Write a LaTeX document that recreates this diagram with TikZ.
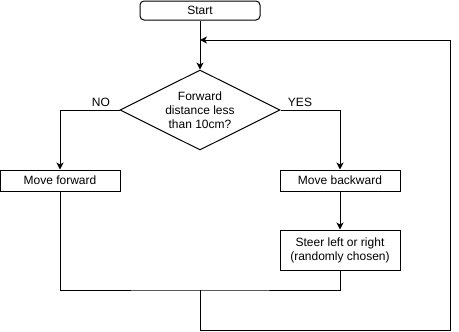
\documentclass[tikz,border=0pt]{standalone}
\usepackage{fontspec}
\setmainfont{Liberation Sans}
\usetikzlibrary{shapes.geometric,arrows.meta}
\begin{document}
\begin{tikzpicture}[x=1pt,y=-1pt,
  every node/.style={font=\fontsize{12}{14}\selectfont, inner sep=0pt},
  box/.style={draw, line width=1pt, minimum width=120pt, align=center},
  term/.style={box, rounded corners=4pt, minimum height=19pt},
  decision/.style={draw, line width=1pt, diamond, minimum width=160pt, minimum height=80pt, aspect=2, align=center},
  flow/.style={line width=1pt},
  arr/.style={flow, -{Stealth[length=7pt,width=7pt,inset=2pt]}},
  lbl/.style={font=\fontsize{12}{14}\selectfont}]
\useasboundingbox (0,0) rectangle (459,332);

\node[term] (start) at (200,10.5) {Start};
\node[decision] (dec) at (200,110) {Forward\\distance less\\than 10cm?};
\node[box, minimum height=21pt] (fwd) at (60,180.5) {Move forward};
\node[box, minimum height=21pt] (back) at (340,180.5) {Move backward};
\node[box, minimum height=40pt] (steer) at (340,250) {Steer left or right\\(randomly chosen)};

\coordinate (loopin) at (200,40);
\coordinate (merge) at (200,290);

\node[lbl] at (101,102) {NO};
\node[lbl] at (300,102) {YES};

\draw[arr] (start.south) -- (dec.north);
\draw[arr] (dec.west) -| (fwd.north);
\draw[arr] (dec.east) -| (back.north);
\draw[arr] (back.south) -- (steer.north);
\draw[flow] (fwd.south) |- (merge) -| (steer.south);
\draw[arr] (merge) -- (200,330) -- (450,330) -- (450,40) -- (loopin);
\end{tikzpicture}
\end{document}
